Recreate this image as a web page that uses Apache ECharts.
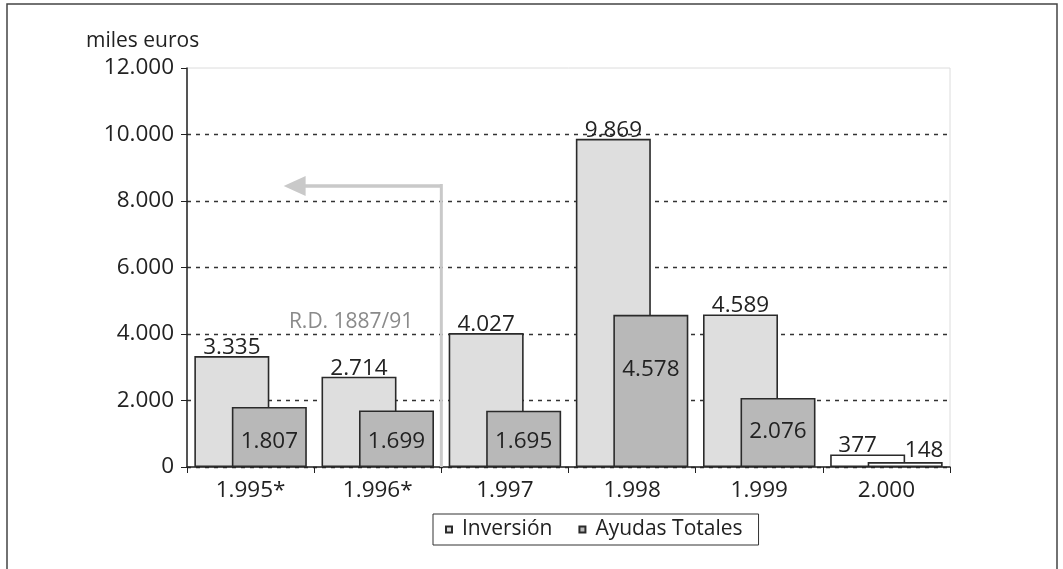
<!DOCTYPE html>
<html>
<head>
<meta charset="utf-8">
<script src="https://cdn.jsdelivr.net/npm/echarts@6/dist/echarts.min.js"></script>
<style>
html,body{margin:0;padding:0;background:#fff;}
#chart{width:1063px;height:569px;}
</style>
</head>
<body>
<div id="chart"></div>
<script>
const categories = ['1.995*', '1.996*', '1.997', '1.998', '1.999', '2.000'];
const inversion = [3335, 2714, 4027, 9869, 4589, 377];
const ayudas = [1807, 1699, 1695, 4578, 2076, 148];
const yTicks = [0, 2000, 4000, 6000, 8000, 10000, 12000];
const seriesNames = ['Inversión', 'Ayudas Totales'];
const annotationText = 'R.D. 1887/91';
const arrowValue = 8450;
const annotationValue = 4360;

const FONT = '"Open Sans", "DejaVu Sans", sans-serif';
const fmt = v => String(v).replace(/\B(?=(\d{3})+(?!\d))/g, '.');

const chart = echarts.init(document.getElementById('chart'));

const lightFill = '#dedede';
const darkFill = '#b8b8b8';
const edge = '#2a2a2a';
const NUM = 22.5;

const invData = inversion.map((v, i) => {
  const item = { value: v };
  if (i === 5) {
    item.itemStyle = { color: '#ffffff' };
    item.label = { offset: [-10, 0] };
  }
  return item;
});
const ayuData = ayudas.map((v, i) => {
  const item = { value: v };
  if (i === 5) {
    item.itemStyle = { color: '#ffffff' };
    item.label = { position: 'top', distance: 0, offset: [19, 0] };
  } else if (i === 3) {
    item.label = { distance: 86 };
  } else if (i === 4) {
    item.label = { distance: 24 };
  }
  return item;
});

const gridColors = yTicks.map((t, i) => i === yTicks.length - 1 ? 'rgba(0,0,0,0)' : '#333');

chart.setOption({
  animation: false,
  backgroundColor: '#ffffff',
  textStyle: { fontFamily: FONT },
  title: {
    text: 'miles euros',
    left: 81, top: 26,
    textStyle: { fontFamily: FONT, fontSize: 21, fontWeight: 'normal', color: '#222' }
  },
  grid: {
    left: 187, right: 113, top: 68, bottom: 102,
    show: true, borderColor: '#dcdcdc', borderWidth: 1
  },
  legend: {
    data: seriesNames,
    left: 433, top: 514,
    orient: 'horizontal',
    icon: 'rect',
    itemWidth: 6, itemHeight: 6,
    itemGap: 26,
    padding: [5, 16, 5, 12],
    borderColor: '#333', borderWidth: 1,
    textStyle: { fontFamily: FONT, fontSize: 21, color: '#222', padding: [0, 0, 0, 5] }
  },
  xAxis: {
    type: 'category',
    data: categories,
    axisLine: { lineStyle: { color: '#222', width: 1.5 } },
    axisTick: { show: true, length: 6, inside: false, lineStyle: { color: '#222' } },
    axisLabel: { fontFamily: FONT, fontSize: NUM, color: '#222', margin: 12 }
  },
  yAxis: {
    type: 'value',
    min: 0, max: 12000, interval: 2000,
    axisLine: { show: true, lineStyle: { color: '#222', width: 1.5 } },
    axisTick: { show: true, length: 6, lineStyle: { color: '#222' } },
    axisLabel: {
      fontFamily: FONT, fontSize: NUM, color: '#222', margin: 13,
      formatter: v => yTicks.includes(v) ? fmt(v) : ''
    },
    splitLine: {
      show: true,
      lineStyle: { color: gridColors, type: [4, 5], width: 1.3 }
    }
  },
  series: [
    {
      name: seriesNames[0],
      type: 'bar',
      data: invData,
      barWidth: 75,
      barGap: '-50%',
      itemStyle: { color: lightFill, borderColor: edge, borderWidth: 1.6 },
      label: {
        show: true, position: 'top', distance: -3,
        fontFamily: FONT, fontSize: NUM, color: '#222',
        formatter: p => fmt(p.value)
      }
    },
    {
      name: seriesNames[1],
      type: 'bar',
      data: ayuData,
      barWidth: 75,
      barGap: '-50%',
      itemStyle: { color: darkFill, borderColor: edge, borderWidth: 1.6 },
      label: {
        show: true, position: 'insideBottom', distance: 14,
        fontFamily: FONT, fontSize: NUM, color: '#222',
        formatter: p => fmt(p.value)
      }
    }
  ]
});

// annotation arrow, placed via the chart's own scales
const c1 = chart.convertToPixel({ xAxisIndex: 0 }, 1);
const c2 = chart.convertToPixel({ xAxisIndex: 0 }, 2);
const c0 = chart.convertToPixel({ xAxisIndex: 0 }, 0);
const boundaryX = (c1 + c2) / 2;
const catW = c2 - c1;
const arrowY = chart.convertToPixel({ yAxisIndex: 0 }, arrowValue);
const baseY = chart.convertToPixel({ yAxisIndex: 0 }, 0);
const textY = chart.convertToPixel({ yAxisIndex: 0 }, annotationValue);
const tipX = c0 + catW * 0.26;
const headLen = 22;

chart.setOption({
  graphic: [
    {
      type: 'polyline', silent: true, z: 1,
      shape: { points: [[7, 569], [7, 4], [1057, 4], [1057, 569]] },
      style: { stroke: '#444', lineWidth: 1.5, fill: null }
    },
    {
      type: 'line', silent: true, z: 50,
      shape: { x1: boundaryX, y1: arrowY - 2, x2: boundaryX, y2: baseY },
      style: { stroke: '#c9c9c9', lineWidth: 3 }
    },
    {
      type: 'line', silent: true, z: 50,
      shape: { x1: boundaryX, y1: arrowY, x2: tipX + headLen - 2, y2: arrowY },
      style: { stroke: '#c9c9c9', lineWidth: 3.5 }
    },
    {
      type: 'polygon', silent: true, z: 50,
      shape: { points: [[tipX, arrowY], [tipX + headLen, arrowY - 10], [tipX + headLen, arrowY + 10]] },
      style: { fill: '#c9c9c9' }
    },
    {
      type: 'text', silent: true, z: 50,
      x: boundaryX - 28, y: textY,
      style: {
        text: annotationText, fontFamily: FONT, fontSize: 21, fill: '#8a8a8a',
        align: 'right', verticalAlign: 'middle'
      }
    }
  ]
});
</script>
</body>
</html>
